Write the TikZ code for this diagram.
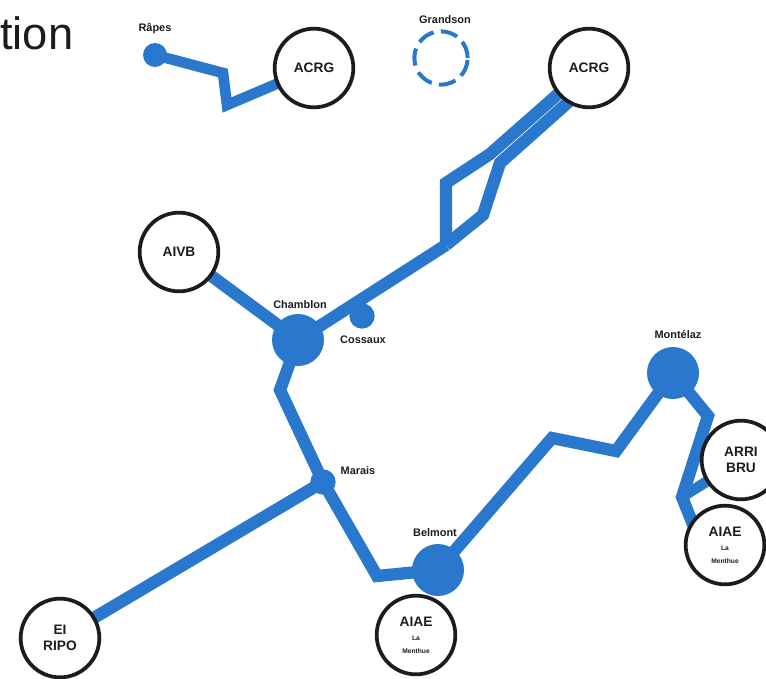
\documentclass[tikz,border=0pt]{standalone}
\usepackage{fontspec}
\usetikzlibrary{backgrounds}
\setmainfont{Liberation Sans}
\definecolor{pipe}{RGB}{42,120,205}
\definecolor{ink}{RGB}{28,28,30}
\tikzset{
  pipeline/.style={draw=pipe,line width=9.2pt,line join=miter},
  thinpipe/.style={draw=pipe,line width=8pt,line join=miter},
  client/.style={circle,draw=ink,fill=white,line width=2.8pt,minimum size=59pt,inner sep=0pt,align=center,text=ink,font=\bfseries\fontsize{10.3pt}{12pt}\selectfont},
  bigstation/.style={circle,fill=pipe,minimum size=39pt,inner sep=0pt},
  smallstation/.style={circle,fill=pipe,minimum size=18pt,inner sep=0pt},
  midstation/.style={circle,fill=pipe,minimum size=19pt,inner sep=0pt},
  lbl/.style={inner sep=0pt,text=ink,font=\bfseries\fontsize{8.2pt}{10pt}\selectfont},
  tiny/.style={font=\bfseries\fontsize{6pt}{7pt}\selectfont}
}
\begin{document}
\begin{tikzpicture}[x=0.75pt,y=-0.75pt]
\useasboundingbox (0,0) rectangle (766,678);
\node[anchor=base west,inner sep=0pt,text=ink,font=\fontsize{34pt}{38pt}\selectfont] (title) at (0,49) {tion};

% stations
\node[smallstation] (rapes) at (155,55) {};
\node[bigstation] (chamblon) at (298,340) {};
\node[midstation] (cossaux) at (362,316) {};
\node[midstation] (marais) at (323,482) {};
\node[bigstation] (belmont) at (438,570) {};
\node[bigstation] (montelaz) at (673,373) {};
\node[circle,draw=pipe,line width=3pt,dash pattern=on 13pt off 5.5pt,minimum size=40pt,inner sep=0pt] (grandson) at (441,58) {};

% clients
\node[client] (acrgA) at (314,68) {ACRG};
\node[client] (acrgB) at (589,68) {ACRG};
\node[client] (aivb) at (179,252) {AIVB};
\node[client] (eiripo) at (60,638) {EI\\RIPO};
\node[client] (aiaeA) at (416,635) {AIAE\\[-1.5pt]{\tiny La}\\[-2.5pt]{\tiny Menthue}};
\node[client] (arri) at (741,460) {ARRI\\BRU};
\node[client] (aiaeB) at (725,545) {AIAE\\[-1.5pt]{\tiny La}\\[-2.5pt]{\tiny Menthue}};

% bends
\coordinate (r1) at (223,73);
\coordinate (r2) at (227,105);
\coordinate (fork) at (446,245);
\coordinate (u1) at (446,183);
\coordinate (u2) at (490,154);
\coordinate (l1) at (500,163);
\coordinate (l2) at (483,215);
\coordinate (acrgBa) at (574,80);
\coordinate (acrgBb) at (582,90);
\coordinate (c1) at (280,390);
\coordinate (m1) at (377,576);
\coordinate (b1) at (552,438);
\coordinate (b2) at (616,451);
\coordinate (t1) at (708,416);
\coordinate (t2) at (682,497);
\coordinate (t3) at (696,532);

% connectors, behind the circles
\begin{pgfonlayer}{background}
\draw[thinpipe] (rapes.center) -- (r1) -- (r2) -- (acrgA.center);
\draw[pipeline] (aivb.center) -- (chamblon.center);
\draw[pipeline] (chamblon.center) -- (fork);
\draw[pipeline] (fork) -- (u1) -- (u2) -- (acrgBa);
\draw[pipeline] (fork) -- (l2) -- (l1) -- (acrgBb);
\draw[pipeline] (chamblon.center) -- (c1) -- (marais.center);
\draw[pipeline] (eiripo.center) -- (marais.center);
\draw[pipeline] (marais.center) -- (m1) -- (belmont.center);
\draw[pipeline] (belmont.center) -- (b1) -- (b2) -- (montelaz.center);
\draw[pipeline] (montelaz.center) -- (t1) -- (t2) -- (t3);
\draw[thinpipe] (t2) -- (arri.center);
\end{pgfonlayer}

% labels
\node[lbl] (lrapes) at (155,29) {Râpes};
\node[lbl] (lgrandson) at (445,20) {Grandson};
\node[lbl] (lchamblon) at (300,305) {Chamblon};
\node[lbl] (lcossaux) at (363,340) {Cossaux};
\node[lbl] (lmarais) at (358,471) {Marais};
\node[lbl] (lbelmont) at (435,533) {Belmont};
\node[lbl] (lmontelaz) at (678,335) {Montélaz};
\end{tikzpicture}
\end{document}
